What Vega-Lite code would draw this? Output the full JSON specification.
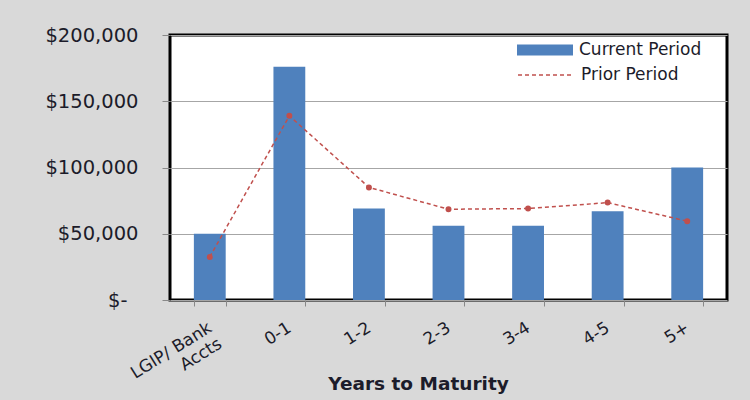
{
  "$schema": "https://vega.github.io/schema/vega-lite/v6.json",
  "autosize": {"type": "none"},
  "width": 557,
  "height": 265,
  "padding": {"left": 170, "top": 35, "right": 23, "bottom": 100},
  "background": "#d9d9d9",
  "config": {
    "view": {"fill": "white", "stroke": "black", "strokeWidth": 3},
    "font": "DejaVu Sans",
    "axis": {"labelFont": "DejaVu Sans", "titleFont": "DejaVu Sans", "labelColor": "#1c1c2a", "titleColor": "#1c1c2a"},
    "legend": {"labelFont": "DejaVu Sans"}
  },
  "data": {
    "values": [
      {"bucket": "LGIP/ Bank Accts", "current": 50000, "prior": 32500},
      {"bucket": "0-1", "current": 176000, "prior": 139000},
      {"bucket": "1-2", "current": 69000, "prior": 85000},
      {"bucket": "2-3", "current": 56000, "prior": 68500},
      {"bucket": "3-4", "current": 56000, "prior": 69000},
      {"bucket": "4-5", "current": 67000, "prior": 73500},
      {"bucket": "5+", "current": 100000, "prior": 59500}
    ]
  },
  "encoding": {
    "x": {
      "field": "bucket",
      "type": "nominal",
      "sort": null,
      "scale": {"paddingInner": 0.6, "paddingOuter": 0.3},
      "axis": {
        "title": "Years to Maturity",
        "titleFontSize": 18.5,
        "titleFontWeight": "bold",
        "titleX": 248,
        "titleY": 83,
        "titleBaseline": "middle",
        "labelAngle": -32,
        "labelAlign": "right",
        "labelBaseline": "middle",
        "labelFontSize": 17,
        "labelPadding": 20,
        "labelExpr": "datum.value == 'LGIP/ Bank Accts' ? ['LGIP/ Bank', 'Accts'] : datum.value",
        "tickBand": "extent",
        "tickColor": "#888",
        "tickSize": 6,
        "domain": false,
        "grid": false
      }
    }
  },
  "layer": [
    {
      "mark": {"type": "bar", "color": "#4f81bd"},
      "encoding": {
        "y": {
          "field": "current",
          "type": "quantitative",
          "scale": {"domain": [0, 200000]},
          "axis": {
            "title": null,
            "values": [0, 50000, 100000, 150000, 200000],
            "labelExpr": "datum.value == 0 ? '$-' : '$' + format(datum.value, ',')",
            "labelFontSize": 19.5,
            "labelPadding": {"condition": {"test": "datum.value == 0", "value": 35}, "value": 24},
            "tickSize": 8,
            "tickColor": "#888",
            "gridColor": "#a6a6a6",
            "gridWidth": 1,
            "domain": false
          }
        },
        "fill": {
          "datum": "Current Period",
          "scale": {"range": ["#4f81bd"]},
          "legend": {
            "title": null,
            "orient": "none",
            "legendX": 347,
            "legendY": -13,
            "symbolType": "M-1,-0.2 L1,-0.2 L1,0.2 L-1,0.2 Z",
            "symbolSize": 3136,
            "symbolStrokeWidth": 0,
            "labelFontSize": 17,
            "labelColor": "#1c1c2a",
            "labelOffset": 6
          }
        }
      }
    },
    {
      "mark": {"type": "line", "color": "#c0504d", "strokeDash": [4, 3], "strokeWidth": 1.5, "point": {"filled": true, "size": 16, "color": "#c0504d"}},
      "encoding": {
        "y": {"field": "prior", "type": "quantitative"},
        "stroke": {
          "datum": "Prior Period",
          "scale": {"range": ["#c0504d"]},
          "legend": {
            "title": null,
            "orient": "none",
            "legendX": 347,
            "legendY": 11,
            "symbolType": "M-1,0 L1,0",
            "symbolSize": 3136,
            "symbolStrokeWidth": 1.5,
            "symbolDash": [4, 3],
            "labelFontSize": 17,
            "labelColor": "#1c1c2a",
            "labelOffset": 6
          }
        }
      }
    }
  ]
}
